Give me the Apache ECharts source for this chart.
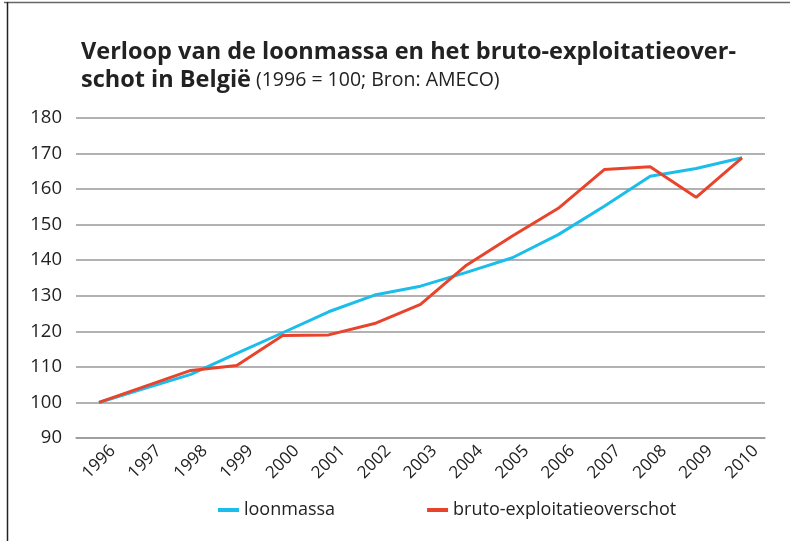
<!DOCTYPE html>
<html>
<head>
<meta charset="utf-8">
<script src="https://cdn.jsdelivr.net/npm/echarts@6/dist/echarts.min.js"></script>
<style>
html,body{margin:0;padding:0;background:#fff;}
#c{width:790px;height:541px;}
</style>
</head>
<body>
<div id="c"></div>
<script>
const years = ['1996','1997','1998','1999','2000','2001','2002','2003','2004','2005','2006','2007','2008','2009','2010'];
const loonmassa = [100, 104, 107.9, 113.8, 119.6, 125.5, 130.2, 132.7, 136.6, 140.7, 147.2, 155.2, 163.6, 165.8, 168.8];
const brutoExploitatieoverschot = [100, 104.5, 109, 110.4, 118.8, 119, 122.2, 127.6, 138.6, 146.8, 154.6, 165.5, 166.3, 157.7, 168.8];
const seriesNames = ['loonmassa', 'bruto-exploitatieoverschot'];
const yTicks = { min: 90, max: 180, interval: 10 };

const FONT = '"Open Sans"';
const chart = echarts.init(document.getElementById('c'), null, { renderer: 'canvas' });
chart.setOption({
  animation: false,
  backgroundColor: '#fff',
  graphic: [
    { type: 'line', shape: { x1: 4, y1: 2.5, x2: 790, y2: 2.5 }, style: { stroke: '#666', lineWidth: 1.5 } },
    { type: 'line', shape: { x1: 7.5, y1: 2, x2: 7.5, y2: 541 }, style: { stroke: '#222', lineWidth: 1.5 } }
  ],
  title: {
    left: 76,
    top: 33,
    text: '{b|Verloop van de loonmassa en het bruto-exploitatieover-}\n{b|schot in België} {n|(1996 = 100; Bron: AMECO)}',
    textStyle: {
      rich: {
        b: { fontFamily: FONT, fontWeight: 'bold', fontSize: 23.5, color: '#222', lineHeight: 28 },
        n: { fontFamily: FONT, fontWeight: 'normal', fontSize: 19.5, color: '#222', lineHeight: 28 }
      }
    }
  },
  legend: {
    left: 213,
    top: 496,
    itemWidth: 21,
    itemHeight: 4,
    itemGap: 92,
    icon: 'rect',
    textStyle: { fontFamily: FONT, fontSize: 18, color: '#222', padding: [0, 0, 0, 0] },
    data: seriesNames
  },
  grid: { left: 76, right: 25, top: 118, bottom: 103, containLabel: false },
  xAxis: {
    type: 'category',
    data: years,
    boundaryGap: true,
    axisLine: { show: true, lineStyle: { color: '#999', width: 1.5 } },
    axisTick: { show: false },
    axisLabel: {
      interval: 0,
      rotate: 45,
      align: 'center',
      verticalAlign: 'middle',
      margin: 24,
      fontFamily: FONT,
      fontSize: 17,
      color: '#222'
    }
  },
  yAxis: {
    type: 'value',
    min: yTicks.min,
    max: yTicks.max,
    interval: yTicks.interval,
    axisLine: { show: false },
    axisTick: { show: false },
    axisLabel: { margin: 14, fontFamily: FONT, fontSize: 18.5, color: '#222' },
    splitLine: { show: true, lineStyle: { color: '#999', width: 1.5 } }
  },
  series: [
    {
      name: seriesNames[0],
      type: 'line',
      data: loonmassa,
      symbol: 'none',
      lineStyle: { color: '#1bbdea', width: 3 },
      itemStyle: { color: '#1bbdea' },
      z: 2
    },
    {
      name: seriesNames[1],
      type: 'line',
      data: brutoExploitatieoverschot,
      symbol: 'none',
      lineStyle: { color: '#e8442c', width: 3 },
      itemStyle: { color: '#e8442c' },
      z: 3
    }
  ]
});
</script>
</body>
</html>
